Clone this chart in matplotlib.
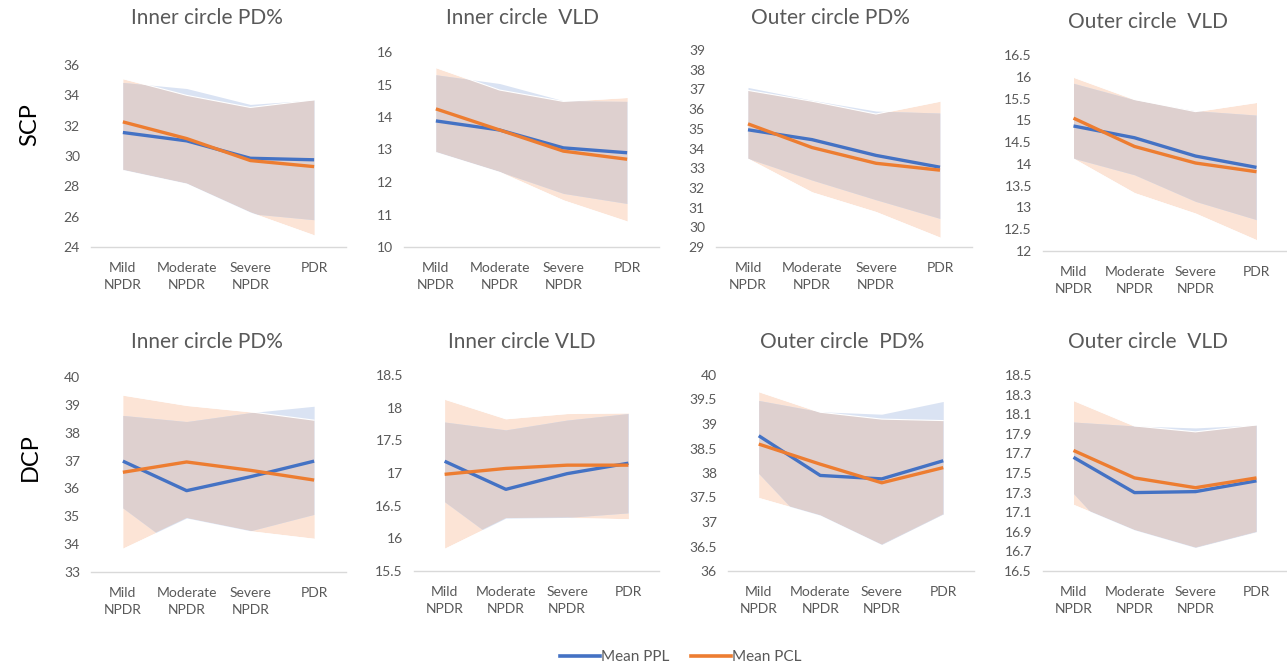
import numpy as np
import matplotlib
matplotlib.use('Agg')
import matplotlib.pyplot as plt
from matplotlib.lines import Line2D
from matplotlib.ticker import FuncFormatter

plt.rcParams['font.family'] = ['Lato', 'DejaVu Sans']

categories = ['Mild\nNPDR', 'Moderate\nNPDR', 'Severe\nNPDR', 'PDR']

# SCP - inner circle PD%
scp_in_pd_ppl = [31.55, 31.0, 29.85, 29.75]
scp_in_pd_ppl_hi = [34.85, 34.45, 33.4, 33.7]
scp_in_pd_ppl_lo = [29.1, 28.2, 26.2, 25.8]
scp_in_pd_pcl = [32.25, 31.15, 29.7, 29.3]
scp_in_pd_pcl_hi = [35.1, 34.0, 33.2, 33.7]
scp_in_pd_pcl_lo = [29.1, 28.2, 26.3, 24.8]

# SCP - inner circle VLD
scp_in_vld_ppl = [13.88, 13.6, 13.05, 12.9]
scp_in_vld_ppl_hi = [15.3, 15.03, 14.5, 14.48]
scp_in_vld_ppl_lo = [12.93, 12.32, 11.65, 11.34]
scp_in_vld_pcl = [14.25, 13.6, 12.95, 12.7]
scp_in_vld_pcl_hi = [15.52, 14.83, 14.48, 14.6]
scp_in_vld_pcl_lo = [12.93, 12.32, 11.45, 10.8]

# SCP - outer circle PD%
scp_out_pd_ppl = [34.95, 34.45, 33.65, 33.05]
scp_out_pd_ppl_hi = [37.1, 36.45, 35.9, 35.8]
scp_out_pd_ppl_lo = [33.5, 32.4, 31.4, 30.45]
scp_out_pd_pcl = [35.25, 34.05, 33.25, 32.9]
scp_out_pd_pcl_hi = [36.95, 36.4, 35.75, 36.4]
scp_out_pd_pcl_lo = [33.5, 31.8, 30.8, 29.5]

# SCP - outer circle VLD
scp_out_vld_ppl = [14.87, 14.6, 14.18, 13.92]
scp_out_vld_ppl_hi = [15.85, 15.47, 15.22, 15.12]
scp_out_vld_ppl_lo = [14.13, 13.75, 13.14, 12.72]
scp_out_vld_pcl = [15.05, 14.4, 14.02, 13.82]
scp_out_vld_pcl_hi = [15.99, 15.48, 15.2, 15.41]
scp_out_vld_pcl_lo = [14.13, 13.34, 12.87, 12.26]

# DCP - inner circle PD%
dcp_in_pd_ppl = [36.98, 35.92, 36.42, 36.98]
dcp_in_pd_ppl_hi = [38.62, 38.4, 38.72, 38.95]
dcp_in_pd_ppl_lo = [35.3, 33.6, 34.48, 35.07]
dcp_in_pd_pcl = [36.58, 36.95, 36.65, 36.3]
dcp_in_pd_pcl_hi = [39.35, 38.98, 38.75, 38.45]
dcp_in_pd_pcl_lo = [33.86, 34.94, 34.48, 34.21]

# DCP - inner circle VLD
dcp_in_vld_ppl = [17.18, 16.75, 16.99, 17.15]
dcp_in_vld_ppl_hi = [17.78, 17.66, 17.81, 17.91]
dcp_in_vld_ppl_lo = [16.56, 15.87, 16.32, 16.39]
dcp_in_vld_pcl = [16.98, 17.07, 17.12, 17.12]
dcp_in_vld_pcl_hi = [18.13, 17.83, 17.91, 17.92]
dcp_in_vld_pcl_lo = [15.85, 16.31, 16.32, 16.3]

# DCP - outer circle PD%
dcp_out_pd_ppl = [38.76, 37.95, 37.88, 38.25]
dcp_out_pd_ppl_hi = [39.48, 39.25, 39.2, 39.46]
dcp_out_pd_ppl_lo = [37.99, 36.66, 36.54, 37.16]
dcp_out_pd_pcl = [38.59, 38.18, 37.8, 38.11]
dcp_out_pd_pcl_hi = [39.66, 39.24, 39.1, 39.07]
dcp_out_pd_pcl_lo = [37.5, 37.14, 36.54, 37.16]

# DCP - outer circle VLD
dcp_out_vld_ppl = [17.66, 17.30, 17.31, 17.42]
dcp_out_vld_ppl_hi = [18.02, 17.98, 17.96, 17.99]
dcp_out_vld_ppl_lo = [17.29, 16.62, 16.74, 16.9]
dcp_out_vld_pcl = [17.73, 17.45, 17.35, 17.45]
dcp_out_vld_pcl_hi = [18.24, 17.98, 17.92, 17.99]
dcp_out_vld_pcl_lo = [17.18, 16.92, 16.74, 16.9]

titles = ['Inner circle PD%', 'Inner circle  VLD', 'Outer circle PD%', 'Outer circle  VLD',
          'Inner circle PD%', 'Inner circle VLD', 'Outer circle  PD%', 'Outer circle  VLD']

BLUE = '#4472C4'
ORANGE = '#ED7D31'
BLUE_BAND = '#DAE3F3'
ORANGE_BAND = '#FCE4D6'
MIX_BAND = '#DED0CF'
GRAY = '#595959'

W, H = 1287, 670

# (x0, x1, ytop, ybottom) in pixels, ylim, ytick step, title centre
panels = [
    ((91, 346, 65, 247), (24, 36), 2, (207, 18),
     scp_in_pd_ppl, scp_in_pd_ppl_lo, scp_in_pd_ppl_hi, scp_in_pd_pcl, scp_in_pd_pcl_lo, scp_in_pd_pcl_hi),
    ((404, 659, 52, 247), (10, 16), 1, (522, 18),
     scp_in_vld_ppl, scp_in_vld_ppl_lo, scp_in_vld_ppl_hi, scp_in_vld_pcl, scp_in_vld_pcl_lo, scp_in_vld_pcl_hi),
    ((716, 972, 50, 247), (29, 39), 1, (830, 18),
     scp_out_pd_ppl, scp_out_pd_ppl_lo, scp_out_pd_ppl_hi, scp_out_pd_pcl, scp_out_pd_pcl_lo, scp_out_pd_pcl_hi),
    ((1043, 1287, 55, 251), (12, 16.5), 0.5, (1148, 22),
     scp_out_vld_ppl, scp_out_vld_ppl_lo, scp_out_vld_ppl_hi, scp_out_vld_pcl, scp_out_vld_pcl_lo, scp_out_vld_pcl_hi),
    ((91, 346, 377, 572), (33, 40), 1, (207, 342),
     dcp_in_pd_ppl, dcp_in_pd_ppl_lo, dcp_in_pd_ppl_hi, dcp_in_pd_pcl, dcp_in_pd_pcl_lo, dcp_in_pd_pcl_hi),
    ((414, 659, 375, 571), (15.5, 18.5), 0.5, (522, 342),
     dcp_in_vld_ppl, dcp_in_vld_ppl_lo, dcp_in_vld_ppl_hi, dcp_in_vld_pcl, dcp_in_vld_pcl_lo, dcp_in_vld_pcl_hi),
    ((728, 974, 375, 571), (36, 40), 0.5, (842, 342),
     dcp_out_pd_ppl, dcp_out_pd_ppl_lo, dcp_out_pd_ppl_hi, dcp_out_pd_pcl, dcp_out_pd_pcl_lo, dcp_out_pd_pcl_hi),
    ((1043, 1287, 375, 571), (16.5, 18.5), 0.2, (1148, 342),
     dcp_out_vld_ppl, dcp_out_vld_ppl_lo, dcp_out_vld_ppl_hi, dcp_out_vld_pcl, dcp_out_vld_pcl_lo, dcp_out_vld_pcl_hi),
]

fig = plt.figure(figsize=(W / 100, H / 100), dpi=100)

x = np.arange(len(categories))

for k, (box, ylim, step, tpos, ppl, ppl_lo, ppl_hi, pcl, pcl_lo, pcl_hi) in enumerate(panels):
    x0, x1, yt, yb = box
    ax = fig.add_axes([x0 / W, 1 - yb / H, (x1 - x0) / W, (yb - yt) / H])
    ax.set_xlim(-0.5, 3.5)
    ax.set_ylim(*ylim)

    ob = ax.fill_between(x, pcl_lo, pcl_hi, color=ORANGE_BAND, lw=0, zorder=1)
    ax.fill_between(x, ppl_lo, ppl_hi, color=BLUE_BAND, lw=0, zorder=2)
    ov = ax.fill_between(x, ppl_lo, ppl_hi, color=MIX_BAND, lw=0, zorder=3)
    ov.set_clip_path(ob.get_paths()[0], ax.transData)
    # lower bound of the PCL band is painted white, hiding the PPL band below it
    ax.fill_between(x, ylim[0], pcl_lo, color='white', lw=0, zorder=4)
    ax.plot(x, pcl_hi, color='white', lw=0.8, zorder=4)

    ax.plot(x, ppl, color=BLUE, lw=2.4, solid_joinstyle='round', solid_capstyle='butt', zorder=5)
    ax.plot(x, pcl, color=ORANGE, lw=2.4, solid_joinstyle='round', solid_capstyle='butt', zorder=6)

    ticks = np.round(np.arange(ylim[0], ylim[1] + step / 2, step), 2)
    ax.set_yticks(ticks)
    ax.yaxis.set_major_formatter(FuncFormatter(lambda v, p: '%g' % round(v, 2)))
    ax.set_xticks(x)
    ax.set_xticklabels(categories)
    for lab in ax.get_xticklabels():
        lab.set_linespacing(1.5)

    ax.tick_params(axis='both', length=0, colors=GRAY, labelsize=10)
    ax.tick_params(axis='x', pad=11)
    ax.tick_params(axis='y', pad=8)
    for side in ['top', 'right', 'left']:
        ax.spines[side].set_visible(False)
    ax.spines['bottom'].set_color('#D9D9D9')
    ax.spines['bottom'].set_linewidth(1.0)
    ax.spines['bottom'].set_zorder(10)
    ax.patch.set_alpha(0)

    fig.text(tpos[0] / W, 1 - tpos[1] / H, titles[k], ha='center', va='center',
             fontsize=15, color=GRAY)

fig.text(30 / W, 1 - 125 / H, 'SCP', rotation=90, ha='center', va='center', fontsize=17, color='black')
fig.text(30 / W, 1 - 457 / H, 'DCP', rotation=90, ha='center', va='center', fontsize=17, color='black')

handles = [Line2D([], [], color=BLUE, lw=2.6), Line2D([], [], color=ORANGE, lw=2.6)]
fig.legend(handles, ['Mean PPL', 'Mean PCL'], loc='center', bbox_to_anchor=(681 / W, 1 - 657 / H),
           ncol=2, frameon=False, fontsize=11, handlelength=2.6, handletextpad=0.1,
           columnspacing=1.4, labelcolor=GRAY)

fig.savefig('out.png', dpi=100)
